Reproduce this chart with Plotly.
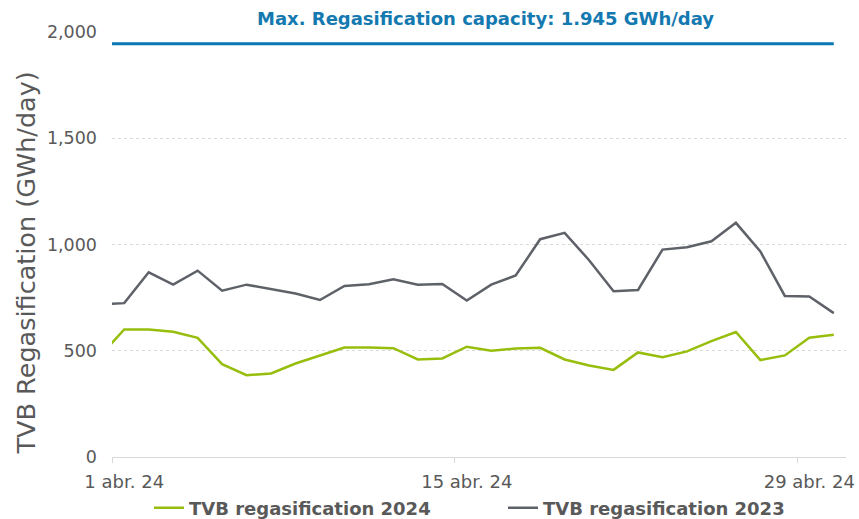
import plotly.graph_objects as go
import pandas as pd

# Daily points (the first one, 31 Mar, lies outside the visible range and is clipped)
dates = pd.date_range("2024-03-31 12:00", "2024-04-30 12:00", freq="D")
regas_2024 = [474, 600, 600, 589, 561, 437, 385, 393, 440, 476, 515, 515, 512, 459, 464, 519,
              500, 511, 514, 459, 431, 410, 492, 470, 497, 545, 588, 456, 478, 561, 575]
regas_2023 = [719, 724, 869, 811, 877, 783, 811, 791, 769, 739, 805, 813, 836, 811, 814, 736,
              811, 854, 1025, 1055, 926, 780, 786, 976, 987, 1015, 1102, 967, 758, 755, 677]
max_capacity = 1945
capacity_line = [max_capacity] * len(dates)

tick_days = pd.to_datetime(["2024-04-01", "2024-04-15", "2024-04-29"])
tick_labels = ["1 abr. 24", "15 abr. 24", "29 abr. 24"]
y_ticks = [0, 500, 1000, 1500, 2000]
y_labels = ["0", "500", "1,000", "1,500", "2,000"]

FONT = "DejaVu Sans"
GREY_TXT = "#595959"

W, H = 859, 519

fig = go.Figure()
fig.add_trace(go.Scatter(x=dates, y=capacity_line, mode="lines",
                         line=dict(color="#0A79B3", width=3), showlegend=False,
                         name="Max. Regasification capacity"))
fig.add_trace(go.Scatter(x=dates, y=regas_2024, mode="lines",
                         line=dict(color="#97BE0D", width=2.5),
                         name="TVB regasification 2024"))
fig.add_trace(go.Scatter(x=dates, y=regas_2023, mode="lines",
                         line=dict(color="#5E6268", width=2.5),
                         name="TVB regasification 2023"))

fig.update_layout(
    width=W, height=H,
    margin=dict(l=112, r=13, t=31.5, b=62),
    plot_bgcolor="white", paper_bgcolor="white",
    font=dict(family=FONT, color=GREY_TXT),
    showlegend=True,
    legend=dict(orientation="h", xref="container", yref="container",
                x=149 / W, xanchor="left", y=11 / H, yanchor="middle",
                font=dict(family=FONT, size=18, color=GREY_TXT, weight="bold"),
                itemwidth=30, entrywidth=309, entrywidthmode="pixels",
                bgcolor="rgba(0,0,0,0)"),
    annotations=[
        dict(text="<b>Max. Regasification capacity: 1.945 GWh/day</b>",
             xref="paper", yref="paper", x=0.5, y=1, xanchor="center",
             yanchor="bottom", yshift=1, xshift=6, showarrow=False,
             font=dict(family=FONT, size=18, color="#1479B0")),
        dict(text="TVB Regasification (GWh/day)", textangle=-90,
             xref="paper", yref="paper", x=0, y=0.5, xanchor="center", yanchor="middle",
             xshift=-87, yshift=-19, showarrow=False,
             font=dict(family=FONT, size=25.5, color=GREY_TXT)),
    ],
)
fig.update_xaxes(type="date", range=["2024-04-01", "2024-05-01"], automargin=False,
                 tickvals=tick_days + pd.Timedelta(hours=12), ticktext=tick_labels,
                 tickfont=dict(family=FONT, size=18, color=GREY_TXT),
                 showgrid=False, showline=True, linecolor="#D9D9D9", linewidth=1,
                 ticks="", ticklabelstandoff=8, zeroline=False,
                 minor=dict(tickvals=tick_days, ticks="outside", ticklen=5,
                            tickcolor="#D9D9D9", showgrid=False))
fig.update_yaxes(range=[0, 2000], tickvals=y_ticks, ticktext=y_labels, automargin=False,
                 tickfont=dict(family=FONT, size=17.5, color=GREY_TXT),
                 showgrid=True, gridcolor="#D9D9D9", griddash="dot", gridwidth=1,
                 zeroline=False, showline=False, ticks="", ticklabelstandoff=14)

fig.write_html("out.html", config={"displayModeBar": False},
               post_script="document.body.style.margin='0';")
